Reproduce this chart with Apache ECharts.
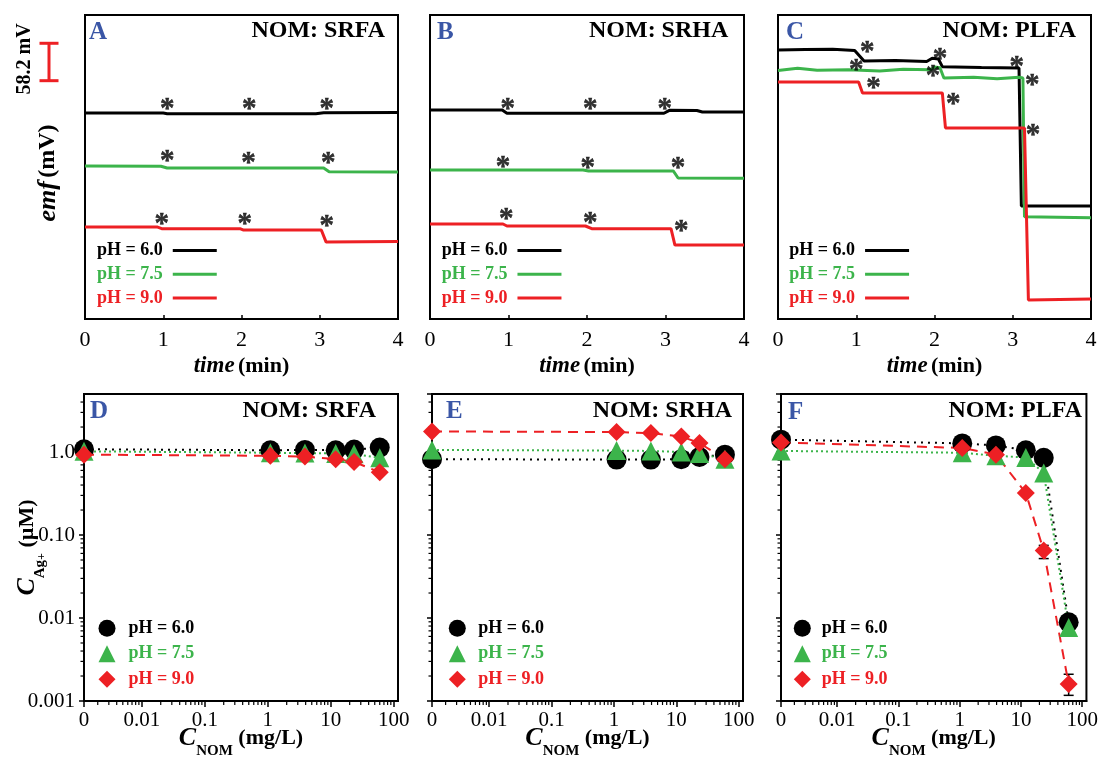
<!DOCTYPE html>
<html>
<head>
<meta charset="utf-8">
<script src="https://cdn.jsdelivr.net/npm/echarts@6/dist/echarts.min.js"></script>
<style>
  html, body { margin: 0; padding: 0; background: #fff; }
  #chart { width: 1101px; height: 761px; }
</style>
</head>
<body>
<div id="chart"></div>
<script>
// ---------- top row: emf traces (mV, measured from the panel floor) vs time (min) ----------
const TIME_MIN = 0, TIME_MAX = 4, EMF_MIN = 0, EMF_MAX = 473;

const A_PH60 = [[0, 320.5], [1.0, 320.5], [1.05, 319.5], [2.95, 319.5], [3.05, 320.8], [4, 321.2]];
const A_PH75 = [[0, 238.1], [0.97, 237.6], [1.05, 235], [3.05, 235], [3.12, 229.2], [4, 228.7]];
const A_PH90 = [[0, 143.2], [0.92, 143.2], [0.98, 140.5], [1.98, 140.5], [2.02, 138.5], [3.02, 138.5], [3.08, 120], [4, 120.5]];

const B_PH60 = [[0, 325.2], [0.92, 325], [0.98, 320.1], [2.98, 320.1], [3.05, 324.7], [3.4, 324.5], [3.47, 322], [4, 322.2]];
const B_PH75 = [[0, 231.8], [1.95, 231.8], [2.02, 230.3], [3.1, 230.3], [3.16, 219.4], [4, 219]];
const B_PH90 = [[0, 147.8], [0.93, 147.8], [0.98, 144.7], [1.98, 144.7], [2.06, 140.5], [3.07, 140.5], [3.12, 115.1], [4, 115.1]];

const C_PH60 = [[0, 418.6], [0.35, 419.2], [0.7, 419.7], [0.98, 417.8], [1.1, 401.4], [1.5, 402.2], [1.9, 400.7],
                [1.97, 405.7], [2.05, 404.6], [2.1, 392.6], [2.6, 391.3], [3.08, 390.6], [3.11, 175.8], [4, 175.8]];
const C_PH75 = [[0, 386.5], [0.25, 390], [0.5, 387], [0.9, 388], [1.3, 386], [1.6, 388.5], [1.95, 388], [2.0, 392],
                [2.07, 391], [2.12, 375], [2.5, 376], [2.8, 374], [3.08, 376], [3.13, 375], [3.15, 159.2], [4, 157.5]];
const C_PH90 = [[0, 368.8], [1.03, 368.8], [1.08, 351.7], [2.1, 351.7], [2.14, 297.2], [3.15, 297.2], [3.2, 29.6], [4, 31.1]];

// asterisks marking each addition of NOM
const A_STARS = [[1.05, 336], [2.1, 336], [3.09, 334.5], [1.05, 255], [2.09, 250.5], [3.11, 250.5], [0.98, 157], [2.04, 157], [3.09, 152.5]];
const B_STARS = [[0.99, 334.5], [2.04, 334.5], [2.99, 334.5], [0.93, 245.8], [2.01, 242.7], [3.16, 242.7], [0.97, 164.9], [2.04, 157.2], [3.2, 144.7]];
const C_STARS = [[1.14, 423.2], [2.07, 412.3], [3.05, 401.4], [1.0, 395.2], [1.98, 387.4], [3.25, 371.9], [1.22, 367.2], [2.24, 342.3], [3.26, 294.1]];

// scale bar for the emf axis
const SCALE_MV = 58.2;
const SCALE_TOP = 429;

// ---------- bottom row: free Ag+ (uM) vs NOM dose (mg/L) ----------
const C_NOM = [0, 1.1, 3.9, 12, 23.5, 60];
const D_PH60 = [1.08, 1.05, 1.06, 1.05, 1.07, 1.13];
const D_PH75 = [1.02, 0.98, 0.97, 0.96, 0.95, 0.85];
const D_PH90 = [0.93, 0.9, 0.88, 0.82, 0.76, 0.57];
const E_PH60 = [0.82, 0.81, 0.81, 0.82, 0.87, 0.93];
const E_PH75 = [1.06, 1.04, 1.03, 1.0, 0.96, 0.82];
const E_PH90 = [1.77, 1.74, 1.69, 1.54, 1.28, 0.82];
const F_PH60 = [1.41, 1.27, 1.2, 1.05, 0.85, 0.0089];
const F_PH75 = [1.03, 0.98, 0.9, 0.86, 0.56, 0.0077];
const F_PH90 = [1.3, 1.12, 0.93, 0.32, 0.065, 0.0016];
const F_PH90_ERR = [[23.5, 0.052, 0.075], [60, 0.00117, 0.0021]]; // [dose, low, high]

const X_MIN = 0.00121, X_MAX = 117;   // the zero dose sits on the left edge
const Y_MIN = 0.001, Y_MAX = 5;
const X_TICK_VALUES = [0.01, 0.1, 1, 10, 100];
const X_TICK_TEXT = ['0.01', '0.1', '1', '10', '100'];
const X_ZERO_TEXT = '0';
const Y_TICK_VALUES = [0.001, 0.01, 0.1, 1];
const Y_TICK_TEXT = ['0.001', '0.01', '0.10', '1.0'];
const MINOR_STEPS = [2, 3, 4, 5, 6, 7, 8, 9];
const DECADES = [0.001, 0.01, 0.1, 1, 10];

const PH_LABELS = ['pH = 6.0', 'pH = 7.5', 'pH = 9.0'];
const TOP_TITLES = ['NOM: SRFA', 'NOM: SRHA', 'NOM: PLFA'];
const PANEL_LETTERS = ['A', 'B', 'C', 'D', 'E', 'F'];

// ---------- styling ----------
const SERIF = "'Liberation Serif', 'Times New Roman', serif";
const BLACK = '#000000', GREEN = '#3cb44b', RED = '#ed2024', BLUE = '#3a56a6';
const PH_COLORS = [BLACK, GREEN, RED];

const chart = echarts.init(document.getElementById('chart'), null, { renderer: 'canvas' });

const grids = [
  { left: 85, top: 15, width: 313, height: 304 },
  { left: 430, top: 15, width: 314, height: 304 },
  { left: 778, top: 15, width: 313, height: 304 },
  { left: 84, top: 394, width: 314, height: 307 },
  { left: 432, top: 394, width: 311, height: 307 },
  { left: 781, top: 394, width: 311, height: 307 }
].map(g => Object.assign({ show: true, borderColor: '#000', borderWidth: 2, backgroundColor: 'transparent' }, g));

const nameRich = {
  i: { fontFamily: SERIF, fontSize: 23, fontWeight: 'bold', fontStyle: 'italic', color: '#000' },
  b: { fontFamily: SERIF, fontSize: 22, fontWeight: 'bold', color: '#000' },
  c: { fontFamily: SERIF, fontSize: 26, fontWeight: 'bold', fontStyle: 'italic', color: '#000', lineHeight: 42, verticalAlign: 'middle' },
  s: { fontFamily: SERIF, fontSize: 15, fontWeight: 'bold', color: '#000', lineHeight: 16, verticalAlign: 'bottom' },
  p: { fontFamily: SERIF, fontSize: 12, fontWeight: 'bold', color: '#000', lineHeight: 36, verticalAlign: 'bottom' }
};

function nearLog(a, b) { return Math.abs(Math.log10(a) - Math.log10(b)) < 0.01; }
function xLabel(v) {
  if (nearLog(v, X_MIN)) return X_ZERO_TEXT;
  const i = X_TICK_VALUES.findIndex(t => nearLog(v, t));
  return i >= 0 ? X_TICK_TEXT[i] : '';
}
function yLabel(v) {
  const i = Y_TICK_VALUES.findIndex(t => nearLog(v, t));
  return i >= 0 ? Y_TICK_TEXT[i] : '';
}

const xAxes = [], yAxes = [];
for (let k = 0; k < 3; k++) {
  xAxes.push({
    type: 'value', gridIndex: k, min: TIME_MIN, max: TIME_MAX, interval: 1,
    axisLine: { lineStyle: { color: '#000', width: 2 } },
    axisTick: { inside: true, length: 4, lineStyle: { color: '#000', width: 1.5 } },
    axisLabel: { color: '#000', fontFamily: SERIF, fontSize: 22, margin: 10 },
    splitLine: { show: false },
    name: '{i|time} {b|(min)}', nameLocation: 'middle', nameGap: 36, nameMoveOverlap: false,
    nameTextStyle: { rich: nameRich }
  });
  yAxes.push({
    type: 'value', gridIndex: k, min: EMF_MIN, max: EMF_MAX,
    axisLine: { show: false }, axisTick: { show: false }, axisLabel: { show: false }, splitLine: { show: false },
    name: k === 0 ? '{i|emf} {b|(mV)}' : '', nameLocation: 'middle', nameRotate: 90, nameGap: 24, nameMoveOverlap: false,
    nameTextStyle: { padding: [0, 12, 0, 0], rich: { i: Object.assign({}, nameRich.i, { fontSize: 26 }), b: Object.assign({}, nameRich.b, { fontSize: 24 }) } }
  });
}
for (let k = 3; k < 6; k++) {
  xAxes.push({
    type: 'log', logBase: 10, gridIndex: k, min: X_MIN, max: X_MAX,
    axisLine: { lineStyle: { color: '#000', width: 2 } },
    axisTick: { inside: false, length: 6, lineStyle: { color: '#000', width: 1.5 } },
    axisLabel: { color: '#000', fontFamily: SERIF, fontSize: 21, margin: 9, formatter: xLabel,
      showMinLabel: true, showMaxLabel: false, alignMinLabel: 'center' },
    splitLine: { show: false },
    name: '{c|C}{s|NOM}{b| (mg/L)}', nameLocation: 'middle', nameGap: 16, nameMoveOverlap: false,
    nameTextStyle: { rich: nameRich }
  });
  yAxes.push({
    type: 'log', logBase: 10, gridIndex: k, min: Y_MIN, max: Y_MAX,
    axisLine: { lineStyle: { color: '#000', width: 2 } },
    axisTick: { inside: false, length: 5, lineStyle: { color: '#000', width: 1.5 } },
    axisLabel: { show: k === 3, color: '#000', fontFamily: SERIF, fontSize: 21, margin: 9, formatter: yLabel, showMaxLabel: false },
    splitLine: { show: false },
    name: k === 3 ? '{c|C}{s|Ag}{p|+}{b| (\u00B5M)}' : '', nameLocation: 'middle', nameRotate: 90, nameGap: 36, nameMoveOverlap: false,
    nameTextStyle: { rich: nameRich }
  });
}

const series = [];
const TOP_NAMES = ['emf 6.0', 'emf 7.5', 'emf 9.0'];
const BOT_NAMES = ['Ag 6.0', 'Ag 7.5', 'Ag 9.0'];
const LABEL_OF = {};
TOP_NAMES.forEach((n, i) => { LABEL_OF[n] = PH_LABELS[i]; });
BOT_NAMES.forEach((n, i) => { LABEL_OF[n] = PH_LABELS[i]; });

// scale bar drawn through the emf axis of panel A
series.push({
  type: 'custom', xAxisIndex: 0, yAxisIndex: 0, silent: true, clip: false,
  data: [[TIME_MIN, SCALE_TOP]],
  renderItem: function (params, api) {
    const top = api.coord([api.value(0), api.value(1)]);
    const bot = api.coord([api.value(0), api.value(1) - SCALE_MV]);
    const x = top[0] - 36;
    const st = { stroke: RED, lineWidth: 3 };
    return {
      type: 'group',
      children: [
        { type: 'line', shape: { x1: x, y1: top[1], x2: x, y2: bot[1] }, style: st },
        { type: 'line', shape: { x1: x - 9.5, y1: top[1], x2: x + 9.5, y2: top[1] }, style: st },
        { type: 'line', shape: { x1: x - 9.5, y1: bot[1], x2: x + 9.5, y2: bot[1] }, style: st },
        { type: 'text', x: x - 24, y: (top[1] + bot[1]) / 2 - 3, rotation: Math.PI / 2,
          style: { text: SCALE_MV + ' mV', fill: '#000', fontFamily: SERIF, fontSize: 20, fontWeight: 'bold', align: 'center', verticalAlign: 'middle' } }
      ]
    };
  }
});

const topData = [[A_PH60, A_PH75, A_PH90], [B_PH60, B_PH75, B_PH90], [C_PH60, C_PH75, C_PH90]];
const topStars = [A_STARS, B_STARS, C_STARS];
topData.forEach((set, k) => {
  set.forEach((d, i) => {
    series.push({
      type: 'line', name: TOP_NAMES[i], xAxisIndex: k, yAxisIndex: k, data: d,
      symbol: 'none', lineStyle: { color: PH_COLORS[i], width: 3 }, itemStyle: { color: PH_COLORS[i] },
      silent: true, z: 3
    });
  });
  series.push({
    type: 'scatter', xAxisIndex: k, yAxisIndex: k, data: topStars[k], symbol: 'circle', symbolSize: 1,
    itemStyle: { color: 'rgba(0,0,0,0)' }, silent: true, z: 4,
    label: { show: true, position: 'inside', formatter: '*', color: '#000', fontFamily: SERIF, fontSize: 29, fontWeight: 'bold',
      textBorderColor: '#000', textBorderWidth: 0.5, offset: [0, 6] }
  });
});

// minor ticks of the log axes, placed through each axis scale
const minorData = [];
DECADES.forEach(d => MINOR_STEPS.forEach(m => {
  const v = +(m * d).toPrecision(3);
  if (v > X_MIN && v < X_MAX) minorData.push([v, Y_MIN, 0]);
  if (v > Y_MIN && v < Y_MAX) minorData.push([X_MIN, v, 1]);
}));

const botData = [[D_PH60, D_PH75, D_PH90], [E_PH60, E_PH75, E_PH90], [F_PH60, F_PH75, F_PH90]];
const SYMBOLS = ['circle', 'triangle', 'diamond'];
const SYMBOL_SIZES = [20, 19, 18];
const LINE_TYPES = [[2, 5], [2, 3], [10, 7]];
botData.forEach((set, j) => {
  const k = j + 3;
  series.push({
    type: 'custom', xAxisIndex: k, yAxisIndex: k, silent: true, clip: false, data: minorData,
    renderItem: function (params, api) {
      const p = api.coord([api.value(0), api.value(1)]);
      const cs = params.coordSys;
      const st = { stroke: '#000', lineWidth: 1.2 };
      if (api.value(2) === 0) {
        return { type: 'line', shape: { x1: p[0], y1: cs.y + cs.height, x2: p[0], y2: cs.y + cs.height + 4 }, style: st };
      }
      return { type: 'line', shape: { x1: cs.x - 3.5, y1: p[1], x2: cs.x, y2: p[1] }, style: st };
    }
  });
  if (j === 2) {
    series.push({
      type: 'custom', xAxisIndex: k, yAxisIndex: k, silent: true, clip: false, data: F_PH90_ERR, z: 2,
      renderItem: function (params, api) {
        const lo = api.coord([api.value(0), api.value(1)]);
        const hi = api.coord([api.value(0), api.value(2)]);
        const st = { stroke: '#000', lineWidth: 1.5 };
        return {
          type: 'group', children: [
            { type: 'line', shape: { x1: lo[0], y1: lo[1], x2: hi[0], y2: hi[1] }, style: st },
            { type: 'line', shape: { x1: lo[0] - 5, y1: lo[1], x2: lo[0] + 5, y2: lo[1] }, style: st },
            { type: 'line', shape: { x1: hi[0] - 5, y1: hi[1], x2: hi[0] + 5, y2: hi[1] }, style: st }
          ]
        };
      }
    });
  }
  set.forEach((vals, i) => {
    series.push({
      type: 'line', name: BOT_NAMES[i], xAxisIndex: k, yAxisIndex: k, clip: false, silent: true, z: 3,
      data: C_NOM.map((c, n) => [c === 0 ? X_MIN : c, vals[n]]),
      symbol: SYMBOLS[i], symbolSize: SYMBOL_SIZES[i], showSymbol: true,
      itemStyle: { color: PH_COLORS[i] },
      lineStyle: { color: PH_COLORS[i], width: 2, type: LINE_TYPES[i] }
    });
  });
});

// legends
const legends = [];
[97, 441.7, 789.3].forEach(left => {
  legends.push({
    left: left, top: 240.5, orient: 'vertical', align: 'right', selectedMode: false,
    icon: 'rect', itemWidth: 44, itemHeight: 3, itemGap: 3.7, padding: 0,
    formatter: n => LABEL_OF[n],
    textStyle: { fontFamily: SERIF, fontSize: 18, fontWeight: 'bold', lineHeight: 20, padding: [0, 5, 0, 0] },
    data: TOP_NAMES.map((n, i) => ({ name: n, textStyle: { color: PH_COLORS[i] } }))
  });
});
[[98.5, 8], [448.8, 7.5], [793.8, 6]].forEach(([left, gap]) => {
  legends.push({
    left: left, top: 618.3, orient: 'vertical', align: 'left', selectedMode: false,
    itemWidth: 17, itemHeight: 17, itemGap: 5.5, padding: 0,
    formatter: n => LABEL_OF[n],
    textStyle: { fontFamily: SERIF, fontSize: 18, fontWeight: 'bold', lineHeight: 20, padding: [0, 0, 0, gap] },
    data: BOT_NAMES.map((n, i) => ({ name: n, icon: SYMBOLS[i], textStyle: { color: PH_COLORS[i] } }))
  });
});

// panel letters and titles
const letterPos = [[89, 20], [437, 20], [786, 20], [90, 399], [446, 399], [788, 400]];
const titlePos = [[716, 19], [372.7, 19], [25, 19], [725, 398.5], [369, 398.5], [19, 398.5]];
const titles = [];
PANEL_LETTERS.forEach((t, k) => {
  titles.push({ text: t, left: letterPos[k][0], top: letterPos[k][1], padding: 0,
    textStyle: { color: BLUE, fontFamily: SERIF, fontSize: 25, fontWeight: 'bold' } });
  titles.push({ text: TOP_TITLES[k % 3], right: titlePos[k][0], top: titlePos[k][1], padding: 0,
    textStyle: { color: '#000', fontFamily: SERIF, fontSize: 24, fontWeight: 'bold' } });
});

chart.setOption({
  animation: false,
  backgroundColor: '#ffffff',
  title: titles,
  legend: legends,
  grid: grids,
  xAxis: xAxes,
  yAxis: yAxes,
  series: series
});
</script>
</body>
</html>
